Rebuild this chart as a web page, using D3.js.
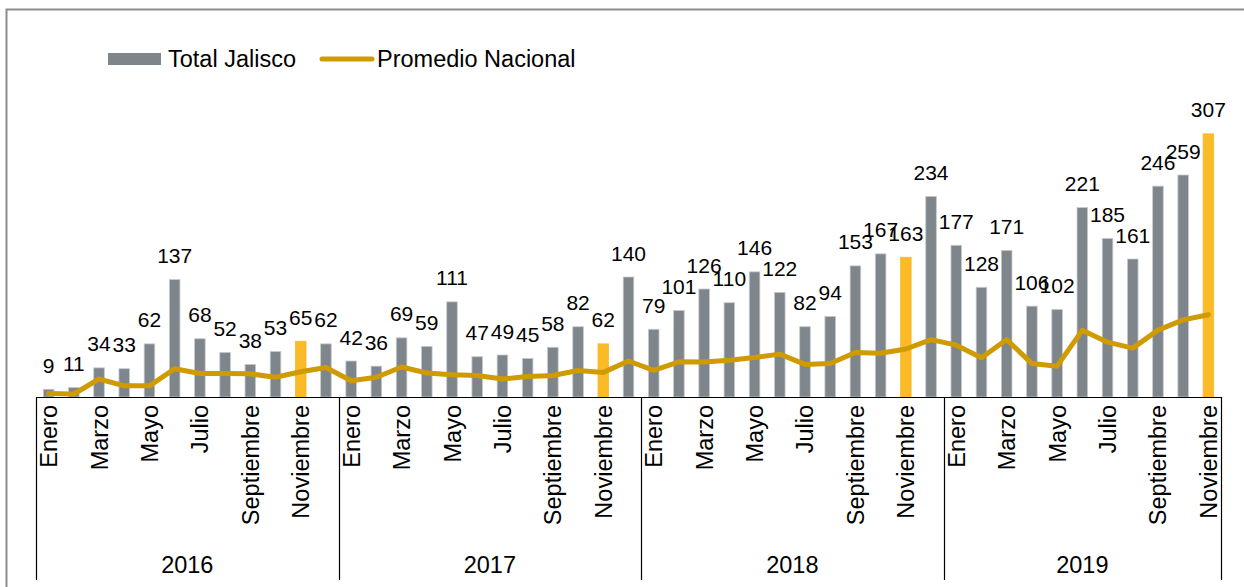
<!DOCTYPE html>
<html>
<head>
<meta charset="utf-8">
<script src="https://cdn.jsdelivr.net/npm/d3@7"></script>
<style>
  body { margin: 0; background: #fff; }
  svg { display: block; font-family: Arial, "Liberation Sans", sans-serif; }
</style>
</head>
<body>
<script>
// data
var years = ["2016", "2017", "2018", "2019"];
var months = ["Enero", "Febrero", "Marzo", "Abril", "Mayo", "Junio", "Julio",
  "Agosto", "Septiembre", "Octubre", "Noviembre", "Diciembre"];
var shownMonths = ["Enero", "Marzo", "Mayo", "Julio", "Septiembre", "Noviembre"];
var highlightMonth = "Noviembre";

var jalisco = [
  9, 11, 34, 33, 62, 137, 68, 52, 38, 53, 65, 62,
  42, 36, 69, 59, 111, 47, 49, 45, 58, 82, 62, 140,
  79, 101, 126, 110, 146, 122, 82, 94, 153, 167, 163, 234,
  177, 128, 171, 106, 102, 221, 185, 161, 246, 259, 307
];
var nacional = [
  4, 3.5, 21, 13, 13, 33, 27.5, 27.5, 27, 23, 29.5, 34.5,
  19, 23, 35, 28, 26, 25, 21, 24, 25, 31, 28.7, 42,
  31, 41, 40.7, 43, 46, 50, 38, 39, 52, 51, 56, 67,
  60.5, 45.7, 67, 39, 36, 78, 64, 57, 78, 90, 96
];

// build rows
var data = [];
years.forEach(function(y) {
  months.forEach(function(m) {
    var i = data.length;
    if (i < jalisco.length) {
      data.push({key: y + "-" + m, year: y, month: m, total: jalisco[i], prom: nacional[i]});
    }
  });
});

var W = 1244, H = 587;
var svg = d3.select("body").append("svg")
  .attr("width", W)
  .attr("height", H);

// outer frame (only top and left visible)
svg.append("path")
  .attr("d", "M6.5,600 L6.5,9.5 L1250,9.5")
  .attr("fill", "none")
  .attr("stroke", "#8c8c8c")
  .attr("stroke-width", 2);

var x = d3.scaleBand()
  .domain(data.map(function(d) { return d.key; }))
  .range([36, 1221])
  .paddingInner(0.58)
  .paddingOuter(0.29);

var y = d3.scaleLinear()
  .domain([0, 350])
  .range([397, 97]);

var cx = function(d) { return x(d.key) + x.bandwidth() / 2; };

// bars
svg.selectAll(".bar")
  .data(data)
  .enter().append("rect")
  .attr("class", "bar")
  .attr("x", function(d) { return x(d.key); })
  .attr("y", function(d) { return y(d.total); })
  .attr("width", x.bandwidth())
  .attr("height", function(d) { return y(0) - y(d.total); })
  .style("fill", function(d) { return d.month === highlightMonth ? "#FBBA28" : "#7E868C"; })
  .style("stroke", function(d) { return d.month === highlightMonth ? "#FBBA28" : "#C5CACE"; })
  .style("stroke-width", 0.8);

// line
var line = d3.line()
  .x(cx)
  .y(function(d) { return y(d.prom); });

svg.append("path")
  .datum(data)
  .attr("d", line)
  .attr("fill", "none")
  .attr("stroke", "#CF9B00")
  .attr("stroke-width", 5)
  .attr("stroke-linejoin", "round")
  .attr("stroke-linecap", "round");

// value labels
svg.selectAll(".val")
  .data(data)
  .enter().append("text")
  .attr("class", "val")
  .attr("x", cx)
  .attr("y", function(d) { return y(d.total) - 16.5; })
  .attr("text-anchor", "middle")
  .style("font-size", "21px")
  .style("fill", "#000")
  .text(function(d) { return d.total; });

// axis line
svg.append("line")
  .attr("x1", x.range()[0]).attr("x2", x.range()[1])
  .attr("y1", y(0) + 0.5).attr("y2", y(0) + 0.5)
  .attr("stroke", "#000").attr("stroke-width", 1.2);

// month labels
svg.selectAll(".month")
  .data(data.filter(function(d) { return shownMonths.indexOf(d.month) >= 0; }))
  .enter().append("text")
  .attr("class", "month")
  .attr("transform", function(d) { return "translate(" + (cx(d) + 8.5) + ",405) rotate(-90)"; })
  .attr("text-anchor", "end")
  .style("font-size", "23.5px")
  .text(function(d) { return d.month; });

// year groups
var groups = years.map(function(yr) {
  var rows = data.filter(function(d) { return d.year === yr; });
  return {year: yr, x0: x(rows[0].key) - x.step() * x.paddingOuter(), x1: x(rows[rows.length - 1].key) + x.bandwidth() + x.step() * x.paddingOuter()};
});

var edges = [groups[0].x0].concat(groups.map(function(g) { return g.x1; }));
svg.selectAll(".sep")
  .data(edges)
  .enter().append("line")
  .attr("class", "sep")
  .attr("x1", function(d) { return Math.round(d) + 0.5; })
  .attr("x2", function(d) { return Math.round(d) + 0.5; })
  .attr("y1", y(0))
  .attr("y2", 580)
  .attr("stroke", "#000")
  .attr("stroke-width", 1.2);

svg.selectAll(".year")
  .data(groups)
  .enter().append("text")
  .attr("class", "year")
  .attr("x", function(d) { return (d.x0 + d.x1) / 2; })
  .attr("y", 573)
  .attr("text-anchor", "middle")
  .style("font-size", "23.5px")
  .text(function(d) { return d.year; });

// legend
var lg = svg.append("g").attr("transform", "translate(108,59)");
lg.append("rect")
  .attr("x", 0).attr("y", -6)
  .attr("width", 53).attr("height", 12)
  .style("fill", "#7E868C");
lg.append("text")
  .attr("x", 60).attr("y", 8)
  .style("font-size", "23.5px")
  .text("Total Jalisco");
lg.append("line")
  .attr("x1", 214).attr("x2", 264)
  .attr("y1", 0).attr("y2", 0)
  .attr("stroke", "#CF9B00")
  .attr("stroke-width", 5)
  .attr("stroke-linecap", "round");
lg.append("text")
  .attr("x", 269).attr("y", 8)
  .style("font-size", "23.5px")
  .text("Promedio Nacional");
</script>
</body>
</html>
